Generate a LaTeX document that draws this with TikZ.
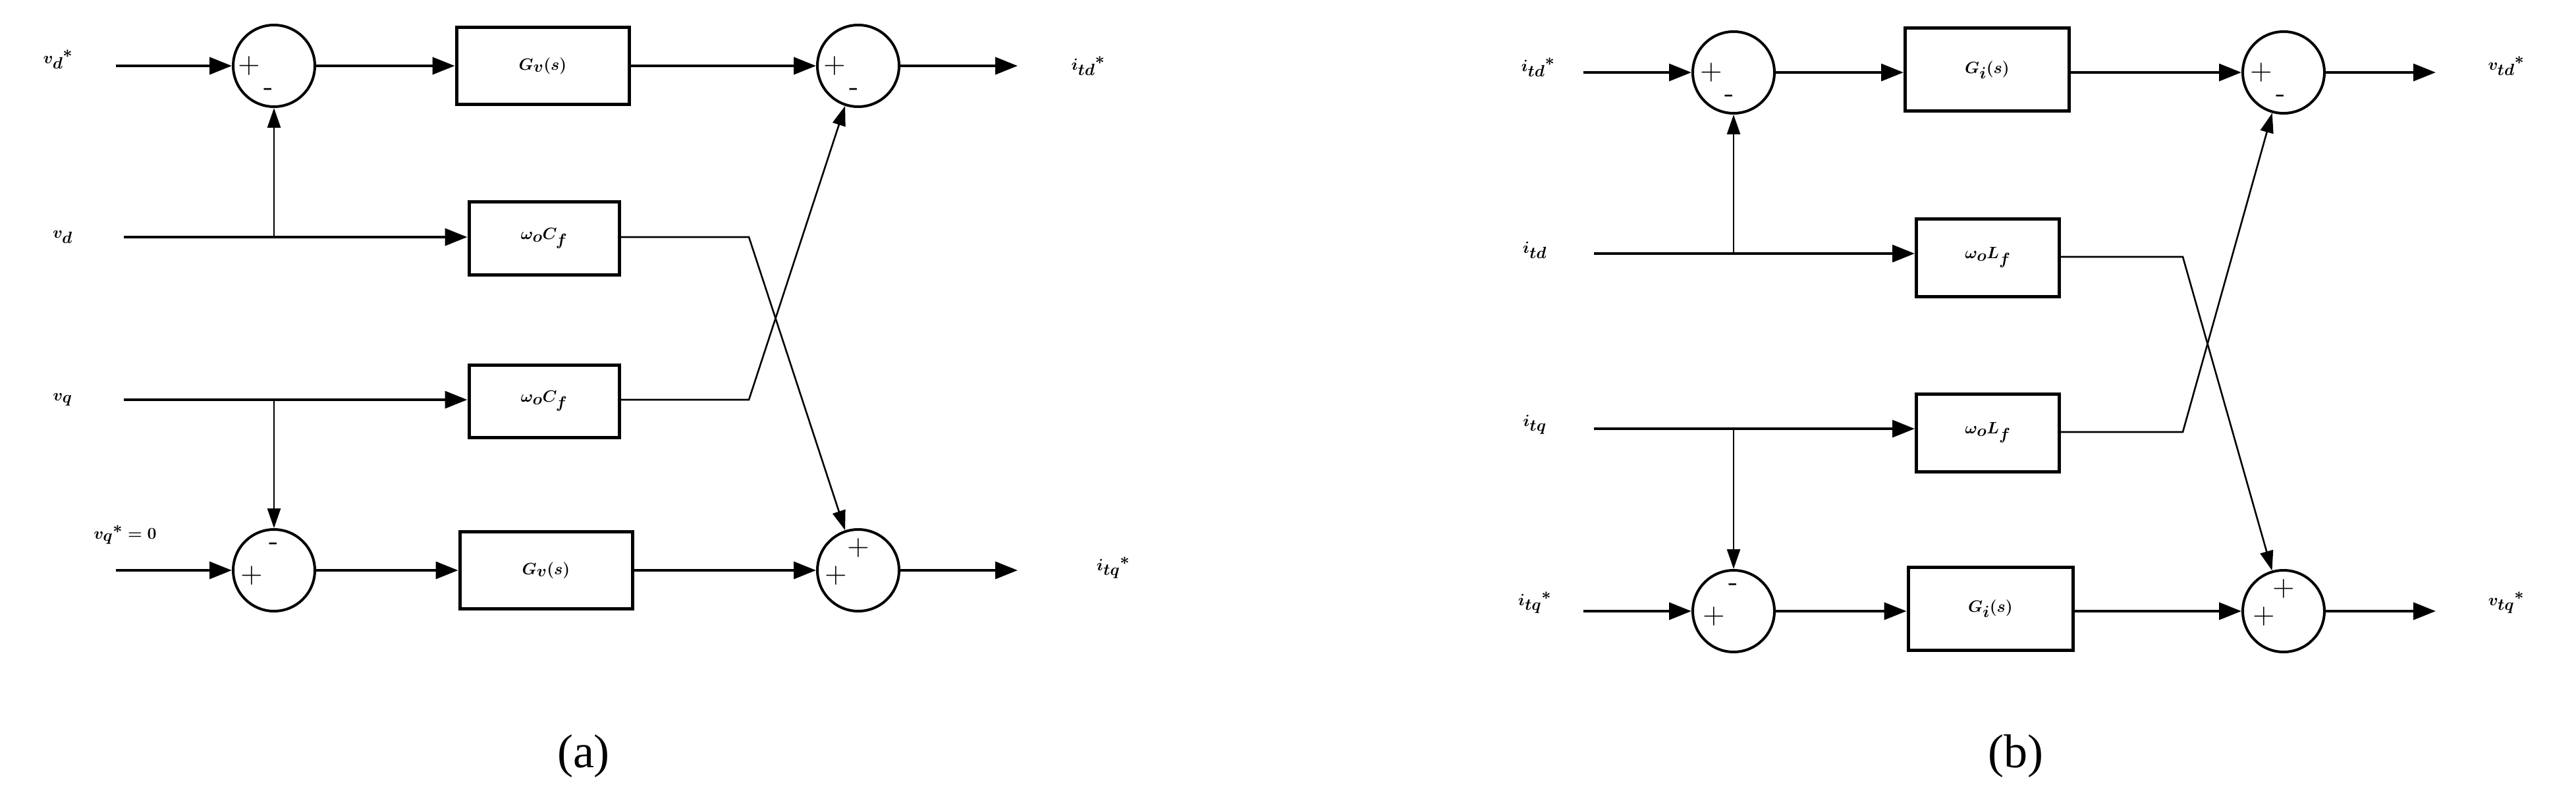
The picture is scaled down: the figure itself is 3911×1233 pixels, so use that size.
\documentclass[tikz,border=0pt]{standalone}
\usepackage{fontspec}
\setmainfont{Liberation Serif}
\usetikzlibrary{arrows.meta}
\tikzset{
  sig/.style={line width=4pt,-{Triangle[length=34pt,width=26pt]}},
  thin sig/.style={line width=2.6pt,-{Triangle[length=30pt,width=20pt]}},
  wire/.style={line width=4pt},
  sumc/.style={draw,circle,line width=4pt,minimum size=124pt,inner sep=0pt},
  blk/.style={draw,rectangle,line width=5pt,inner sep=0pt},
  lbl/.style={font=\fontsize{80}{90}\selectfont\boldmath},
  sgn/.style={font=\fontsize{46}{50}\selectfont\sffamily,inner sep=0pt},
  captxt/.style={font=\fontsize{72}{80}\selectfont}
}
\begin{document}
\begin{tikzpicture}[x=1pt,y=-1pt]
\useasboundingbox (0,0) rectangle (3911,1233);
% ===== panel (a) =====
\node[lbl] (avds) at (88,90) {$v_d{}^*$};
\coordinate (as1) at (176,100);
\node[sumc] (ac1) at (416,100) {};
\node[blk,minimum width=262pt,minimum height=117pt,lbl] (ag1) at (824,100) {$G_v(s)$};
\node[sumc] (ac2) at (1303,100) {};
\coordinate (ao1) at (1545,100);
\node[lbl] (aitds) at (1652,100) {$i_{td}{}^*$};
\node[lbl] (avd) at (95,360) {$v_d$};
\coordinate (as2) at (188,360);
\coordinate (ab1) at (416,360);
\node[blk,minimum width=228pt,minimum height=110pt,lbl] (aw1) at (826,362) {$\omega_o C_f$};
\coordinate (ax1) at (1137,360);
\node[lbl] (avq) at (95,607) {$v_q$};
\coordinate (as3) at (188,607);
\coordinate (ab2) at (416,607);
\node[blk,minimum width=228pt,minimum height=110pt,lbl] (aw2) at (826,609) {$\omega_o C_f$};
\coordinate (ax2) at (1137,607);
\node[lbl] (avqs) at (190,812) {$v_q{}^*=0$};
\coordinate (as4) at (176,866);
\node[sumc] (ac3) at (416,866) {};
\node[blk,minimum width=262pt,minimum height=117pt,lbl] (ag2) at (829,866) {$G_v(s)$};
\node[sumc] (ac4) at (1303,866) {};
\coordinate (ao2) at (1545,866);
\node[lbl] (aitqs) at (1690,862) {$i_{tq}{}^*$};
\node[captxt] (capa) at (886,1148) {(a)};
% signs a
\node[sgn] at ([shift={(-38,0)}]ac1.center) {+};
\node[sgn] at ([shift={(-8,40)}]ac1.center) {-};
\node[sgn] at ([shift={(-36,0)}]ac2.center) {+};
\node[sgn] at ([shift={(-6,40)}]ac2.center) {-};
\node[sgn] at ([shift={(0,-36)}]ac3.center) {-};
\node[sgn] at ([shift={(-34,8)}]ac3.center) {+};
\node[sgn] at ([shift={(0,-34)}]ac4.center) {+};
\node[sgn] at ([shift={(-34,8)}]ac4.center) {+};
% wires a
\draw[sig] (as1) -- (ac1);
\draw[sig] (ac1) -- (ag1);
\draw[sig] (ag1) -- (ac2);
\draw[sig] (ac2) -- (ao1);
\draw[sig] (as2) -- (aw1.west |- as2);
\draw[thin sig] (ab1) -- (ac1);
\draw[sig] (as3) -- (aw2.west |- as3);
\draw[thin sig] (ab2) -- (ac3);
\draw[sig] (as4) -- (ac3);
\draw[sig] (ac3) -- (ag2);
\draw[sig] (ag2) -- (ac4);
\draw[sig] (ac4) -- (ao2);
\draw[thin sig] (aw1.east |- ax1) -- (ax1) -- (ac4);
\draw[thin sig] (aw2.east |- ax2) -- (ax2) -- (ac2);
% ===== panel (b) =====
\node[lbl] (bitds) at (2335,102) {$i_{td}{}^*$};
\coordinate (bs1) at (2404,110);
\node[sumc] (bc1) at (2632,110) {};
\node[blk,minimum width=249pt,minimum height=126pt,lbl] (bg1) at (3017,106) {$G_i(s)$};
\node[sumc] (bc2) at (3467,110) {};
\coordinate (bo1) at (3698,110);
\node[lbl] (bvtds) at (3805,100) {$v_{td}{}^*$};
\node[lbl] (bitd) at (2330,380) {$i_{td}$};
\coordinate (bs2) at (2420,385);
\coordinate (bb1) at (2632,385);
\node[blk,minimum width=217pt,minimum height=118pt,lbl] (bw1) at (3018,391) {$\omega_o L_f$};
\coordinate (bx1) at (3314,390);
\node[lbl] (bitq) at (2330,645) {$i_{tq}$};
\coordinate (bs3) at (2420,651);
\coordinate (bb2) at (2632,651);
\node[blk,minimum width=217pt,minimum height=118pt,lbl] (bw2) at (3018,657) {$\omega_o L_f$};
\coordinate (bx2) at (3314,656);
\node[lbl] (bitqs) at (2330,915) {$i_{tq}{}^*$};
\coordinate (bs4) at (2404,928);
\node[sumc] (bc3) at (2632,928) {};
\node[blk,minimum width=250pt,minimum height=126pt,lbl] (bg2) at (3022,924) {$G_i(s)$};
\node[sumc] (bc4) at (3467,928) {};
\coordinate (bo2) at (3698,928);
\node[lbl] (bvtqs) at (3805,915) {$v_{tq}{}^*$};
\node[captxt] (capb) at (3060,1148) {(b)};
% signs b
\node[sgn] at ([shift={(-34,0)}]bc1.center) {+};
\node[sgn] at ([shift={(-6,40)}]bc1.center) {-};
\node[sgn] at ([shift={(-34,0)}]bc2.center) {+};
\node[sgn] at ([shift={(-4,40)}]bc2.center) {-};
\node[sgn] at ([shift={(0,-36)}]bc3.center) {-};
\node[sgn] at ([shift={(-30,8)}]bc3.center) {+};
\node[sgn] at ([shift={(0,-34)}]bc4.center) {+};
\node[sgn] at ([shift={(-30,8)}]bc4.center) {+};
% wires b
\draw[sig] (bs1) -- (bc1);
\draw[sig] (bc1) -- (bg1.west |- bc1);
\draw[sig] (bg1.east |- bc1) -- (bc2);
\draw[sig] (bc2) -- (bo1);
\draw[sig] (bs2) -- (bw1.west |- bs2);
\draw[thin sig] (bb1) -- (bc1);
\draw[sig] (bs3) -- (bw2.west |- bs3);
\draw[thin sig] (bb2) -- (bc3);
\draw[sig] (bs4) -- (bc3);
\draw[sig] (bc3) -- (bg2.west |- bc3);
\draw[sig] (bg2.east |- bc3) -- (bc4);
\draw[sig] (bc4) -- (bo2);
\draw[thin sig] (bw1.east |- bx1) -- (bx1) -- (bc4);
\draw[thin sig] (bw2.east |- bx2) -- (bx2) -- (bc2);
\end{tikzpicture}
\end{document}
